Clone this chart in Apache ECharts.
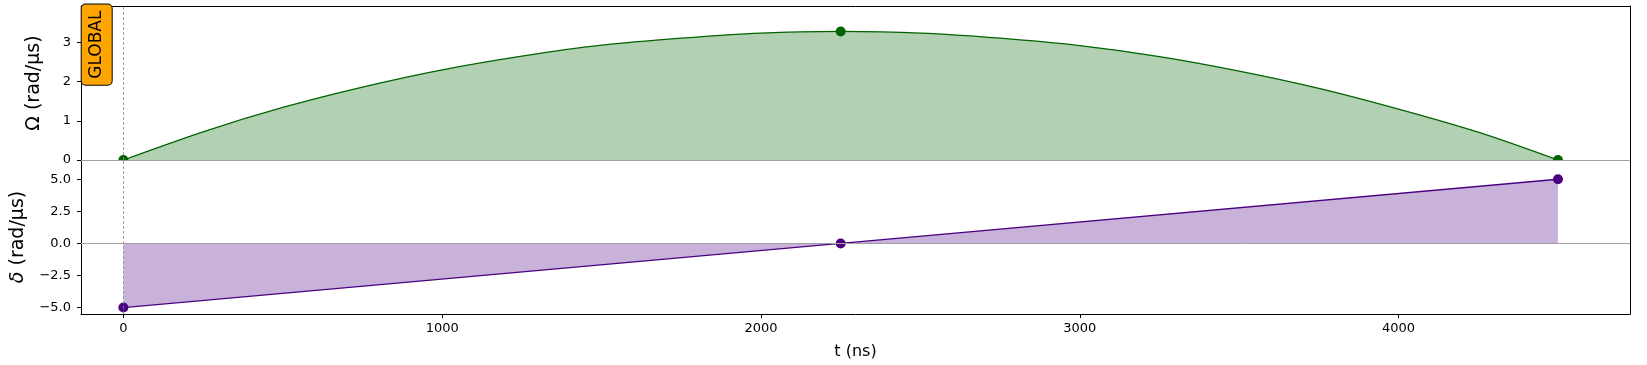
<!DOCTYPE html>
<html>
<head>
<meta charset="utf-8">
<script src="https://cdn.jsdelivr.net/npm/echarts@6/dist/echarts.min.js"></script>
<style>
    html, body { margin: 0; padding: 0; background: #fff; }
    #chart { width: 1647px; height: 365px; }
</style>
</head>
<body>
<div id="chart"></div>
<script>
// time axis (ns)
const xTicks = [0, 1000, 2000, 3000, 4000];

// Omega(t) (rad/µs)
const omegaT = [0, 250, 500, 750, 1000, 1250, 1500, 1750, 2000, 2250,
    2500, 2750, 3000, 3250, 3500, 3750, 4000, 4250, 4500];
const omegaVals = [0, 0.72, 1.34, 1.86, 2.30, 2.65, 2.93, 3.11, 3.24, 3.28,
    3.24, 3.11, 2.92, 2.64, 2.27, 1.83, 1.30, 0.71, 0];
// Omega knot markers
const omegaKnotT = [0, 2250, 4500];
const omegaKnots = [0, 3.28, 0];
const omegaTicks = [0, 1, 2, 3];

// delta(t) knots (rad/µs)
const deltaT = [0, 2250, 4500];
const deltaVals = [-5, 0, 5];
const deltaTicks = [-5, -2.5, 0, 2.5, 5];

const FONT = '"DejaVu Sans", sans-serif';
const GREEN = '#006400';
const PURPLE = '#4b0082';
const HALF_DISC = 'path://M0,10 A10,10 0 0 1 20,10 Z';

const chart = echarts.init(document.getElementById('chart'));

const xRange = { min: -133, max: 4726 };

// top panel knots, endpoints sit on the panel edge so only upper half shows
const omegaKnotData = omegaKnotT.map((t, i) => {
    if (omegaKnots[i] === 0) {
        return { value: [t, 0], symbol: HALF_DISC, symbolSize: [10, 5], symbolOffset: [0, -2.5] };
    }
    return { value: [t, omegaKnots[i]] };
});

const blackLine = { show: true, onZero: false, lineStyle: { color: '#000', width: 1 } };
const tickLabel = { color: '#000', fontSize: 13, fontFamily: FONT };

chart.setOption({
    animation: false,
    grid: [
        { left: 81, top: 6, width: 1549, height: 154 },
        { left: 81, top: 160, width: 1549, height: 154 }
    ],
    xAxis: [
        {   // top panel bottom edge (zero line) with inner ticks
            gridIndex: 0, type: 'value', ...xRange, position: 'bottom',
            axisLine: { show: true, onZero: false, lineStyle: { color: '#a0a0a0', width: 1 } },
            axisTick: { show: true, inside: true, length: 4, customValues: xTicks, lineStyle: { color: '#000' } },
            axisLabel: { show: false },
            splitLine: { show: false }
        },
        {   // top border
            gridIndex: 0, type: 'value', ...xRange, position: 'top',
            axisLine: blackLine, axisTick: { show: false }, axisLabel: { show: false }, splitLine: { show: false }
        },
        {
            gridIndex: 1, type: 'value', ...xRange, position: 'bottom',
            axisLine: blackLine,
            axisTick: { show: true, length: 4, customValues: xTicks, lineStyle: { color: '#000' } },
            axisLabel: { show: true, margin: 8, customValues: xTicks, ...tickLabel, formatter: v => String(v) },
            splitLine: { show: false },
            name: 't (ns)', nameLocation: 'middle', nameGap: 30,
            nameTextStyle: { color: '#000', fontSize: 16, fontFamily: FONT }
        }
    ],
    yAxis: [
        {
            gridIndex: 0, type: 'value', min: 0, max: 3.93, position: 'left',
            axisLine: blackLine,
            axisTick: { show: true, length: 4, customValues: omegaTicks, lineStyle: { color: '#000' } },
            axisLabel: { show: true, margin: 10, customValues: omegaTicks, ...tickLabel, formatter: v => String(v) },
            splitLine: { show: false },
            name: 'Ω (rad/µs)', nameLocation: 'middle', nameGap: 37, nameRotate: 90,
            nameTextStyle: { color: '#000', fontSize: 19, fontFamily: FONT }
        },
        {
            gridIndex: 0, type: 'value', min: 0, max: 3.93, position: 'right',
            axisLine: blackLine, axisTick: { show: false }, axisLabel: { show: false }, splitLine: { show: false }
        },
        {
            gridIndex: 1, type: 'value', min: -5.5, max: 6.5, position: 'left',
            axisLine: blackLine,
            axisTick: { show: true, length: 4, customValues: deltaTicks, lineStyle: { color: '#000' } },
            axisLabel: {
                show: true, margin: 10, customValues: deltaTicks, ...tickLabel,
                formatter: v => v.toFixed(1).replace('-', '\u2212')
            },
            splitLine: { show: false },
            name: '{i|δ} (rad/µs)', nameLocation: 'middle', nameGap: 53, nameRotate: 90,
            nameTextStyle: {
                color: '#000', fontSize: 19, fontFamily: FONT,
                rich: { i: { fontStyle: 'italic', fontSize: 19, fontFamily: FONT, color: '#000' } }
            }
        },
        {
            gridIndex: 1, type: 'value', min: -5.5, max: 6.5, position: 'right',
            axisLine: blackLine, axisTick: { show: false }, axisLabel: { show: false }, splitLine: { show: false }
        }
    ],
    series: [
        {
            name: 'omega', type: 'line', xAxisIndex: 0, yAxisIndex: 0,
            data: omegaT.map((t, i) => [t, omegaVals[i]]),
            smooth: 0.3, showSymbol: false,
            lineStyle: { color: GREEN, width: 1.3 },
            areaStyle: { color: '#b2d0b2', opacity: 1, origin: 0 },
            markLine: {
                silent: true, symbol: 'none', label: { show: false },
                lineStyle: { color: '#888', type: [3, 2], width: 0.8 },
                data: [{ xAxis: 0 }]
            }
        },
        {
            name: 'omega knots', type: 'scatter', xAxisIndex: 0, yAxisIndex: 0,
            data: omegaKnotData, symbolSize: 10,
            itemStyle: { color: GREEN, opacity: 1 }, z: 3
        },
        {
            name: 'delta', type: 'line', xAxisIndex: 2, yAxisIndex: 2,
            data: deltaT.map((t, i) => [t, deltaVals[i]]),
            symbol: 'circle', symbolSize: 10, showSymbol: true,
            itemStyle: { color: PURPLE, opacity: 1 },
            lineStyle: { color: PURPLE, width: 1.3 },
            areaStyle: { color: '#c9b2d9', opacity: 1, origin: 0 },
            markLine: {
                silent: true, symbol: 'none', label: { show: false },
                data: [
                    { yAxis: 0, lineStyle: { color: '#a0a0a0', type: 'solid', width: 1 } },
                    { xAxis: 0, lineStyle: { color: '#888', type: [3, 2], width: 0.8 } }
                ]
            }
        }
    ],
    graphic: [{
        type: 'text', x: 96.7, y: 44.7, rotation: Math.PI / 2, z: 100,
        style: {
            text: 'GLOBAL', font: '17px "DejaVu Sans"', fill: '#000',
            align: 'center', verticalAlign: 'middle', lineHeight: 20,
            backgroundColor: '#FFA500', borderColor: '#000', borderWidth: 1,
            borderRadius: 4, padding: [5, 6]
        }
    }]
});
</script>
</body>
</html>
